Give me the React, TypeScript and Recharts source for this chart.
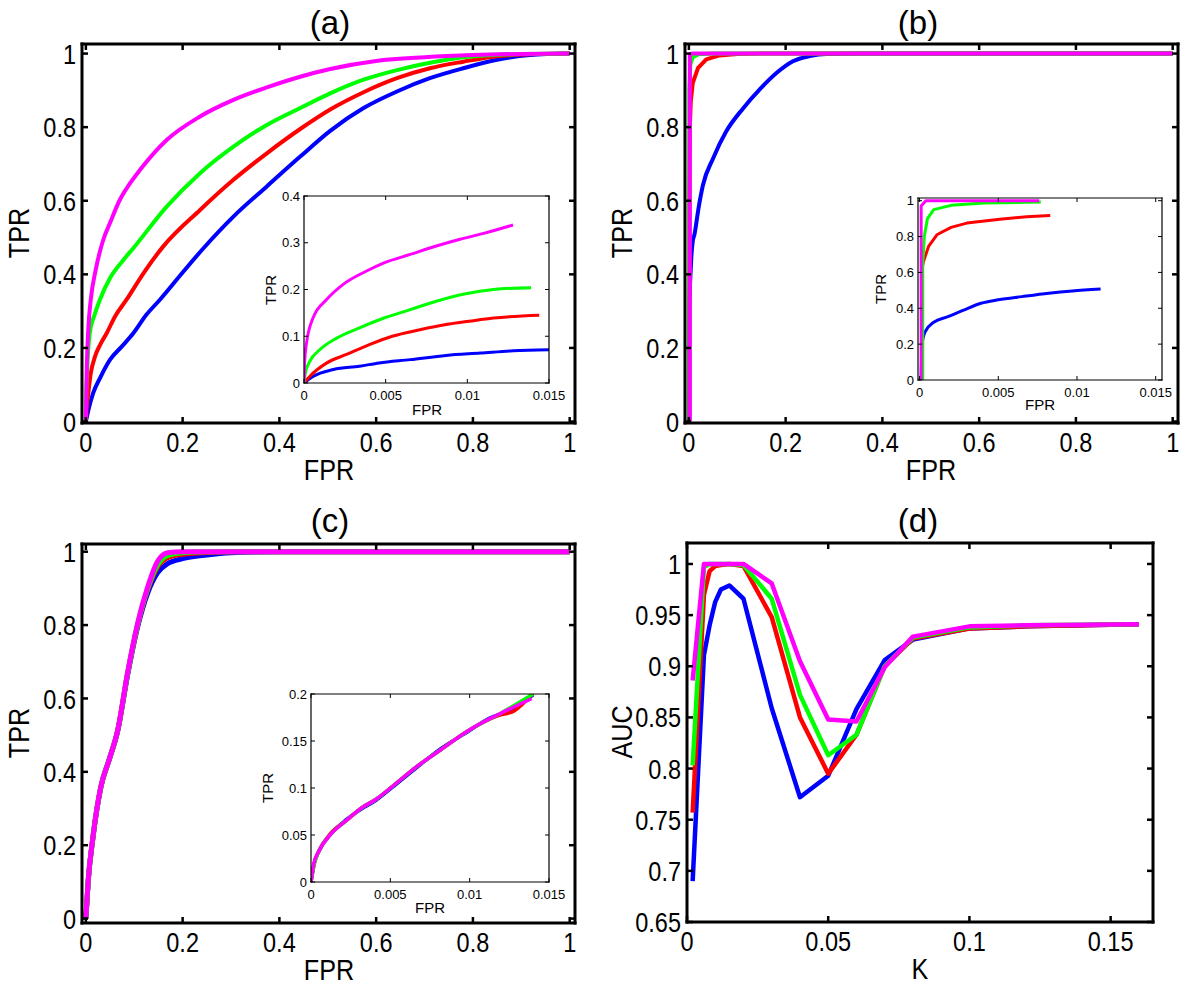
import { LineChart, Line, XAxis, YAxis } from 'recharts';

type Pt = [number, number];

const BLUE = '#0000ff';
const RED = '#ff0000';
const GREEN = '#00ff00';
const MAGENTA = '#ff00ff';
const FONT = '"Liberation Sans", Arial, Helvetica, sans-serif';

// tick values
const ROC_TICKS = [0, 0.2, 0.4, 0.6, 0.8, 1];
const INSET_FPR_TICKS = [0, 0.005, 0.01, 0.015];
const INSET_A_TPR_TICKS = [0, 0.1, 0.2, 0.3, 0.4];
const INSET_B_TPR_TICKS = [0, 0.2, 0.4, 0.6, 0.8, 1];
const INSET_C_TPR_TICKS = [0, 0.05, 0.1, 0.15, 0.2];
const K_TICKS = [0, 0.05, 0.1, 0.15];
const AUC_TICKS = [0.65, 0.7, 0.75, 0.8, 0.85, 0.9, 0.95, 1];

// (a) ROC, [FPR, TPR]
const A_BLUE: Pt[] = [[0, 0], [0.005, 0.03], [0.015, 0.077], [0.03, 0.12], [0.05, 0.168], [0.075, 0.205], [0.098, 0.24], [0.125, 0.29], [0.153, 0.331], [0.2, 0.405], [0.243, 0.471], [0.305, 0.557], [0.374, 0.639], [0.443, 0.72], [0.505, 0.79], [0.574, 0.852], [0.643, 0.897], [0.711, 0.933], [0.78, 0.96], [0.85, 0.983], [0.918, 0.996], [1, 1]];
const A_RED: Pt[] = [[0, 0], [0.002, 0.04], [0.005, 0.077], [0.01, 0.13], [0.019, 0.177], [0.03, 0.21], [0.043, 0.24], [0.06, 0.285], [0.084, 0.331], [0.12, 0.405], [0.16, 0.476], [0.236, 0.575], [0.305, 0.657], [0.374, 0.729], [0.443, 0.795], [0.505, 0.848], [0.574, 0.895], [0.643, 0.933], [0.711, 0.96], [0.78, 0.978], [0.85, 0.993], [0.92, 0.998], [1, 1]];
const A_GREEN: Pt[] = [[0, 0], [0.0005, 0.06], [0.003, 0.15], [0.008, 0.24], [0.018, 0.29], [0.029, 0.331], [0.05, 0.39], [0.075, 0.435], [0.098, 0.471], [0.167, 0.584], [0.236, 0.675], [0.305, 0.747], [0.374, 0.806], [0.443, 0.852], [0.505, 0.892], [0.574, 0.929], [0.643, 0.955], [0.711, 0.975], [0.78, 0.99], [0.85, 0.997], [1, 1]];
const A_MAGENTA: Pt[] = [[0, 0], [0.002, 0.15], [0.005, 0.25], [0.01, 0.33], [0.02, 0.41], [0.036, 0.494], [0.05, 0.54], [0.07, 0.602], [0.09, 0.645], [0.112, 0.684], [0.167, 0.765], [0.236, 0.829], [0.305, 0.874], [0.374, 0.908], [0.443, 0.937], [0.505, 0.958], [0.6, 0.98], [0.7, 0.99], [0.8, 0.996], [0.9, 0.999], [1, 1]];

// (a) inset
const AI_BLUE: Pt[] = [[0, 0], [0.00055, 0.014], [0.0018, 0.029], [0.0034, 0.036], [0.0046, 0.043], [0.0065, 0.05], [0.0087, 0.059], [0.0108, 0.064], [0.0128, 0.069], [0.015, 0.071]];
const AI_RED: Pt[] = [[0, 0], [0.00035, 0.014], [0.0014, 0.043], [0.0026, 0.061], [0.004, 0.082], [0.0054, 0.1], [0.0071, 0.114], [0.0087, 0.125], [0.0101, 0.132], [0.0116, 0.139], [0.0144, 0.145]];
const AI_GREEN: Pt[] = [[0, 0], [0.00008, 0.021], [0.00035, 0.046], [0.00096, 0.071], [0.002, 0.096], [0.0034, 0.118], [0.0049, 0.139], [0.0065, 0.157], [0.0081, 0.175], [0.0099, 0.191], [0.0116, 0.2], [0.0139, 0.204]];
const AI_MAGENTA: Pt[] = [[0, 0], [0.00004, 0.046], [0.00014, 0.082], [0.00055, 0.139], [0.0014, 0.179], [0.0024, 0.211], [0.0038, 0.239], [0.0049, 0.257], [0.0065, 0.275], [0.0081, 0.293], [0.0095, 0.307], [0.011, 0.32], [0.0128, 0.338]];

// (b) ROC
const B_BLUE: Pt[] = [[0, 0], [0.0002, 0.2], [0.001, 0.32], [0.003, 0.39], [0.005, 0.445], [0.008, 0.49], [0.0115, 0.508], [0.02, 0.58], [0.029, 0.642], [0.05, 0.715], [0.077, 0.788], [0.112, 0.851], [0.146, 0.902], [0.181, 0.947], [0.215, 0.979], [0.25, 0.993], [0.284, 0.999], [0.35, 1], [1, 1]];
const B_RED: Pt[] = [[0.001, 0], [0.001, 0.62], [0.002, 0.8], [0.004, 0.87], [0.008, 0.92], [0.019, 0.961], [0.036, 0.984], [0.063, 0.995], [0.1, 0.999], [0.15, 1], [1, 1]];
const B_GREEN: Pt[] = [[0.001, 0], [0.001, 0.9], [0.003, 0.97], [0.008, 0.99], [0.02, 0.998], [0.05, 1], [1, 1]];
const B_MAGENTA: Pt[] = [[0.002, 0], [0.002, 0.998], [0.006, 1], [1, 1]];

// (b) inset
const BI_BLUE: Pt[] = [[0.0001, 0], [0.00012, 0.1], [0.00015, 0.195], [0.00036, 0.27], [0.0009, 0.322], [0.0018, 0.353], [0.0028, 0.39], [0.0039, 0.428], [0.005, 0.447], [0.0065, 0.465], [0.0082, 0.484], [0.0097, 0.497], [0.0115, 0.508]];
const BI_RED: Pt[] = [[0.00015, 0], [0.00015, 0.62], [0.00025, 0.661], [0.00057, 0.745], [0.0011, 0.81], [0.002, 0.851], [0.003, 0.875], [0.0051, 0.897], [0.0068, 0.91], [0.0083, 0.918]];
const BI_GREEN: Pt[] = [[0.0002, 0], [0.0002, 0.65], [0.0003, 0.8], [0.0005, 0.9], [0.0009, 0.95], [0.002, 0.974], [0.0041, 0.987], [0.0077, 0.993]];
const BI_MAGENTA: Pt[] = [[0.0001, 0], [0.0001, 0.97], [0.0004, 1], [0.0076, 1]];

// (c) ROC
const C_BLUE: Pt[] = [[0, 0], [0.005, 0.105], [0.014, 0.214], [0.031, 0.358], [0.048, 0.432], [0.066, 0.512], [0.086, 0.662], [0.107, 0.795], [0.128, 0.888], [0.148, 0.942], [0.17, 0.968], [0.2, 0.981], [0.25, 0.991], [0.3, 0.997], [0.4, 1], [1, 1]];
const C_RED: Pt[] = [[0, 0], [0.005, 0.106], [0.014, 0.215], [0.031, 0.359], [0.048, 0.433], [0.066, 0.514], [0.086, 0.666], [0.107, 0.8], [0.128, 0.897], [0.148, 0.958], [0.17, 0.984], [0.2, 0.993], [0.25, 0.998], [0.3, 1], [1, 1]];
const C_GREEN: Pt[] = [[0, 0], [0.005, 0.106], [0.014, 0.215], [0.031, 0.36], [0.048, 0.433], [0.066, 0.514], [0.086, 0.667], [0.107, 0.802], [0.128, 0.9], [0.148, 0.963], [0.17, 0.99], [0.2, 0.997], [0.25, 1], [1, 1]];
const C_MAGENTA: Pt[] = [[0, 0], [0.005, 0.107], [0.014, 0.216], [0.031, 0.36], [0.048, 0.433], [0.066, 0.515], [0.086, 0.669], [0.107, 0.805], [0.128, 0.905], [0.148, 0.973], [0.169, 0.997], [0.2, 1], [1, 1]];

// (c) inset
const CI_BLUE: Pt[] = [[0, 0], [0.0002, 0.02], [0.0005, 0.033], [0.0012, 0.05], [0.0022, 0.066], [0.0032, 0.078], [0.0041, 0.087], [0.005, 0.099], [0.0066, 0.121], [0.0082, 0.142], [0.0099, 0.16], [0.0112, 0.174], [0.0125, 0.182], [0.014, 0.199]];
const CI_RED: Pt[] = [[0, 0], [0.0002, 0.019], [0.0005, 0.033], [0.0012, 0.051], [0.0022, 0.065], [0.0032, 0.079], [0.0041, 0.088], [0.005, 0.1], [0.0066, 0.122], [0.0082, 0.141], [0.0099, 0.161], [0.0118, 0.177], [0.0128, 0.182], [0.014, 0.201]];
const CI_GREEN: Pt[] = [[0, 0], [0.0002, 0.019], [0.0005, 0.033], [0.0012, 0.05], [0.0022, 0.065], [0.0032, 0.079], [0.0041, 0.088], [0.005, 0.1], [0.0066, 0.122], [0.0082, 0.141], [0.0099, 0.161], [0.0119, 0.179], [0.014, 0.2]];
const CI_MAGENTA: Pt[] = [[0, 0], [0.00017, 0.019], [0.0005, 0.033], [0.00125, 0.051], [0.0022, 0.065], [0.0032, 0.079], [0.0041, 0.088], [0.005, 0.1], [0.0066, 0.122], [0.0082, 0.141], [0.0099, 0.161], [0.0119, 0.179], [0.0139, 0.195]];

// (d) AUC against K
const K_VALUES = [0.002, 0.006, 0.008, 0.01, 0.012, 0.015, 0.02, 0.03, 0.04, 0.05, 0.06, 0.07, 0.08, 0.1, 0.12, 0.16];
const D_BLUE = [0.69, 0.911, 0.94, 0.963, 0.975, 0.979, 0.966, 0.859, 0.772, 0.793, 0.858, 0.906, 0.926, 0.937, 0.939, 0.941];
const D_RED = [0.757, 0.97, 0.993, 0.998, 0.999, 1.0, 0.998, 0.948, 0.85, 0.795, 0.833, 0.9, 0.927, 0.937, 0.939, 0.941];
const D_GREEN = [0.803, 0.997, 1.0, 1.0, 1.0, 1.0, 0.999, 0.966, 0.872, 0.813, 0.833, 0.9, 0.928, 0.938, 0.94, 0.941];
const D_MAGENTA = [0.886, 1.0, 1.0, 1.0, 1.0, 1.0, 1.0, 0.981, 0.905, 0.848, 0.846, 0.899, 0.929, 0.939, 0.94, 0.941];

const rows = (pts: Pt[]) => pts.map(([x, y]) => ({ x, y }));
const byK = (auc: number[]) => K_VALUES.map((x, i) => ({ x, y: auc[i] }));
const fmt = (v: number) => String(Number(v.toFixed(4)));

type Look = {
  font: number;
  sx: number;
  tickLen: number;
  tickW: number;
  frame: number;
  line: number;
  gapX: number;
  gapY: number;
};

const MAIN: Look = { font: 28, sx: 0.84, tickLen: 6, tickW: 2.5, frame: 3, line: 4, gapX: 19, gapY: 6 };
const INSET: Look = { font: 13, sx: 1, tickLen: 4, tickW: 1, frame: 1.2, line: 3, gapX: 12, gapY: 4 };

function tickMark(p: any, side: string, look: Look, label: boolean) {
  const { x, y, payload } = p;
  const n = look.tickLen;
  const txt = fmt(payload.value);
  const common = { stroke: '#000', strokeWidth: look.tickW };
  if (side === 'bottom') {
    return (
      <g>
        <line x1={x} y1={y} x2={x} y2={y - n} {...common} />
        {label && (
          <text transform={`translate(${x},${y + look.gapX}) scale(${look.sx},1)`} textAnchor="middle" dy="0.36em" fontSize={look.font} fontFamily={FONT} fill="#000">
            {txt}
          </text>
        )}
      </g>
    );
  }
  if (side === 'top') return <line x1={x} y1={y} x2={x} y2={y + n} {...common} />;
  if (side === 'right') return <line x1={x} y1={y} x2={x - n} y2={y} {...common} />;
  return (
    <g>
      <line x1={x} y1={y} x2={x + n} y2={y} {...common} />
      {label && (
        <text transform={`translate(${x - look.gapY},${y}) scale(${look.sx},1)`} textAnchor="end" dy="0.36em" fontSize={look.font} fontFamily={FONT} fill="#000">
          {txt}
        </text>
      )}
    </g>
  );
}

type Curve = { data: { x: number; y: number }[]; color: string; smooth?: boolean };

function Plot(props: {
  box: [number, number, number, number];
  xDomain: [number, number];
  yDomain: [number, number];
  xTicks: number[];
  yTicks: number[];
  curves: Curve[];
  look: Look;
  line?: number;
  smooth?: boolean;
}) {
  const { box, xDomain, yDomain, xTicks, yTicks, curves, look } = props;
  const [L, T, W, H] = box;
  const pad = 70;
  const axisLine = { stroke: '#000', strokeWidth: look.frame, strokeLinecap: 'square' as const };
  const shared = {
    type: 'number' as const,
    dataKey: 'x',
    allowDataOverflow: true,
    interval: 0 as const,
    tickSize: 0,
    tickMargin: 0,
    axisLine,
  };
  return (
    <div style={{ position: 'absolute', left: L - pad, top: T - pad }}>
      <LineChart width={W + 2 * pad} height={H + 2 * pad} margin={{ top: 0, right: 0, bottom: 0, left: 0 }}>
        <XAxis xAxisId="b" orientation="bottom" height={pad} domain={xDomain} ticks={xTicks} {...shared} tick={(p: any) => tickMark(p, 'bottom', look, true)} />
        <XAxis xAxisId="t" orientation="top" height={pad} domain={xDomain} ticks={xTicks} {...shared} tick={(p: any) => tickMark(p, 'top', look, false)} />
        <YAxis yAxisId="l" orientation="left" width={pad} domain={yDomain} ticks={yTicks} {...shared} dataKey="y" tick={(p: any) => tickMark(p, 'left', look, true)} />
        <YAxis yAxisId="r" orientation="right" width={pad} domain={yDomain} ticks={yTicks} {...shared} dataKey="y" tick={(p: any) => tickMark(p, 'right', look, false)} />
        {curves.map((c, i) => (
          <Line
            key={i}
            xAxisId="b"
            yAxisId="l"
            data={c.data}
            dataKey="y"
            type={props.smooth || c.smooth ? 'monotone' : 'linear'}
            stroke={c.color}
            strokeWidth={props.line ?? look.line}
            strokeLinejoin="round"
            dot={false}
            activeDot={false}
            isAnimationActive={false}
          />
        ))}
      </LineChart>
    </div>
  );
}

function Txt({ x, y, size, text, rot = 0, sx = 0.84 }: { x: number; y: number; size: number; text: string; rot?: number; sx?: number }) {
  return (
    <div
      style={{
        position: 'absolute',
        left: x,
        top: y,
        fontSize: size,
        fontFamily: FONT,
        lineHeight: 1,
        whiteSpace: 'nowrap',
        color: '#000',
        transform: `translate(-50%, -50%) rotate(${rot}deg) scaleX(${sx})`,
      }}
    >
      {text}
    </div>
  );
}

const set = (b: Pt[], r: Pt[], g: Pt[], m: Pt[], smoothBlue = false): Curve[] => [
  { data: rows(b), color: BLUE, smooth: smoothBlue },
  { data: rows(r), color: RED },
  { data: rows(g), color: GREEN },
  { data: rows(m), color: MAGENTA },
];

export default function App() {
  const rocX: [number, number] = [-0.008, 1.011];
  return (
    <div style={{ position: 'absolute', left: 0, top: 0, width: 1200, height: 998, background: '#fff', overflow: 'hidden' }}>
      <Plot box={[82, 44, 493, 379]} xDomain={rocX} yDomain={[-0.004, 1.026]} xTicks={ROC_TICKS} yTicks={ROC_TICKS} curves={set(A_BLUE, A_RED, A_GREEN, A_MAGENTA)} look={MAIN} smooth />
      <Plot box={[685, 44, 493, 379]} xDomain={rocX} yDomain={[-0.004, 1.026]} xTicks={ROC_TICKS} yTicks={ROC_TICKS} curves={set(B_BLUE, B_RED, B_GREEN, B_MAGENTA, true)} look={MAIN} />
      <Plot box={[82, 544, 493, 379]} xDomain={rocX} yDomain={[-0.012, 1.021]} xTicks={ROC_TICKS} yTicks={ROC_TICKS} curves={set(C_BLUE, C_RED, C_GREEN, C_MAGENTA)} look={MAIN} line={5} smooth />
      <Plot
        box={[687, 543, 466, 379]}
        xDomain={[0, 0.165]}
        yDomain={[0.65, 1.0205]}
        xTicks={K_TICKS}
        yTicks={AUC_TICKS}
        curves={[
          { data: byK(D_BLUE), color: BLUE },
          { data: byK(D_RED), color: RED },
          { data: byK(D_GREEN), color: GREEN },
          { data: byK(D_MAGENTA), color: MAGENTA },
        ]}
        look={MAIN}
        line={4.5}
      />

      <Plot box={[304, 196, 245, 187]} xDomain={[0, 0.015]} yDomain={[0, 0.4]} xTicks={INSET_FPR_TICKS} yTicks={INSET_A_TPR_TICKS} curves={set(AI_BLUE, AI_RED, AI_GREEN, AI_MAGENTA)} look={INSET} smooth />
      <Plot box={[918, 198, 244, 182]} xDomain={[-0.0001, 0.0154]} yDomain={[0, 1.015]} xTicks={INSET_FPR_TICKS} yTicks={INSET_B_TPR_TICKS} curves={set(BI_BLUE, BI_RED, BI_GREEN, BI_MAGENTA, true)} look={INSET} />
      <Plot box={[311, 694, 238, 188]} xDomain={[0, 0.015]} yDomain={[0, 0.2]} xTicks={INSET_FPR_TICKS} yTicks={INSET_C_TPR_TICKS} curves={set(CI_BLUE, CI_RED, CI_GREEN, CI_MAGENTA)} look={INSET} line={3.5} smooth />

      <Txt x={330} y={22} size={33} text="(a)" sx={1} />
      <Txt x={19} y={233} size={30} text="TPR" rot={-90} />
      <Txt x={328.5} y={470} size={30} text="FPR" />

      <Txt x={918} y={22} size={33} text="(b)" sx={1} />
      <Txt x={622} y={233} size={30} text="TPR" rot={-90} />
      <Txt x={931} y={470} size={30} text="FPR" />

      <Txt x={330} y={520} size={33} text="(c)" sx={1} />
      <Txt x={19} y={733} size={30} text="TPR" rot={-90} />
      <Txt x={328.5} y={970} size={30} text="FPR" />

      <Txt x={918} y={520} size={33} text="(d)" sx={1} />
      <Txt x={622} y={732} size={30} text="AUC" rot={-90} />
      <Txt x={920} y={969} size={30} text="K" />

      <Txt x={270} y={290} size={15} text="TPR" rot={-90} sx={1} />
      <Txt x={427} y={409} size={15} text="FPR" sx={1} />
      <Txt x={880} y={289} size={15} text="TPR" rot={-90} sx={1} />
      <Txt x={1040} y={404} size={15} text="FPR" sx={1} />
      <Txt x={267} y={788} size={15} text="TPR" rot={-90} sx={1} />
      <Txt x={430} y={907} size={15} text="FPR" sx={1} />
    </div>
  );
}
